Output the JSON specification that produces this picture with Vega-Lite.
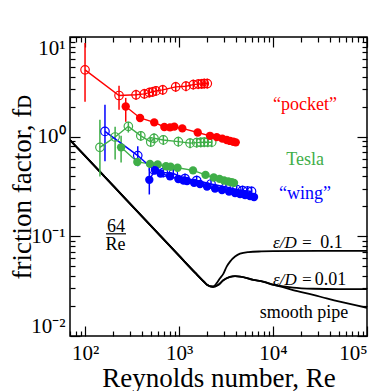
{
  "$schema": "https://vega.github.io/schema/vega-lite/v6.json",
  "autosize": {"type": "none"},
  "padding": {"left": 70, "top": 37, "right": 14, "bottom": 55},
  "width": 297,
  "height": 299,
  "background": "white",
  "config": {"view": {"stroke": "black", "strokeWidth": 1.5}},
  "datasets": {
    "pts": [
      {"grp":"pocket","s":"po","fill":"open","Re":100,"f":4.68,"lo":2.24,"hi":8.7},
      {"grp":"pocket","s":"po","fill":"open","Re":230,"f":2.59,"lo":1.86,"hi":3.24},
      {"grp":"pocket","s":"po","fill":"open","Re":349,"f":2.63,"lo":2.34,"hi":2.95},
      {"grp":"pocket","s":"po","fill":"open","Re":428,"f":2.69,"lo":2.40,"hi":3.02},
      {"grp":"pocket","s":"po","fill":"open","Re":483,"f":2.77,"lo":2.47,"hi":3.11},
      {"grp":"pocket","s":"po","fill":"open","Re":525,"f":2.82,"lo":2.51,"hi":3.16},
      {"grp":"pocket","s":"po","fill":"open","Re":569,"f":2.88,"lo":2.57,"hi":3.23},
      {"grp":"pocket","s":"po","fill":"open","Re":671,"f":2.95,"lo":2.63,"hi":3.31},
      {"grp":"pocket","s":"po","fill":"open","Re":922,"f":3.16,"lo":2.82,"hi":3.55},
      {"grp":"pocket","s":"po","fill":"open","Re":1186,"f":3.21,"lo":2.86,"hi":3.60},
      {"grp":"pocket","s":"po","fill":"open","Re":1419,"f":3.33,"lo":2.97,"hi":3.74},
      {"grp":"pocket","s":"po","fill":"open","Re":1603,"f":3.37,"lo":3.00,"hi":3.78},
      {"grp":"pocket","s":"po","fill":"open","Re":1742,"f":3.39,"lo":3.02,"hi":3.80},
      {"grp":"pocket","s":"po","fill":"open","Re":1858,"f":3.41,"lo":3.04,"hi":3.83},
      {"grp":"pocket","s":"po","fill":"open","Re":2000,"f":3.41,"lo":3.04,"hi":3.83},
      {"grp":"pocket","s":"pf","fill":"filled","Re":271,"f":2.01,"lo":1.41,"hi":2.45},
      {"grp":"pocket","s":"pf","fill":"filled","Re":385,"f":1.54},
      {"grp":"pocket","s":"pf","fill":"filled","Re":545,"f":1.39},
      {"grp":"pocket","s":"pf","fill":"filled","Re":698,"f":1.25},
      {"grp":"pocket","s":"pf","fill":"filled","Re":802,"f":1.24},
      {"grp":"pocket","s":"pf","fill":"filled","Re":891,"f":1.26},
      {"grp":"pocket","s":"pf","fill":"filled","Re":1084,"f":1.21},
      {"grp":"pocket","s":"pf","fill":"filled","Re":1581,"f":1.10},
      {"grp":"pocket","s":"pf","fill":"filled","Re":2137,"f":1.02},
      {"grp":"pocket","s":"pf","fill":"filled","Re":2518,"f":0.99},
      {"grp":"pocket","s":"pf","fill":"filled","Re":2891,"f":0.955},
      {"grp":"pocket","s":"pf","fill":"filled","Re":3220,"f":0.927},
      {"grp":"pocket","s":"pf","fill":"filled","Re":3491,"f":0.906},
      {"grp":"pocket","s":"pf","fill":"filled","Re":3785,"f":0.89},
      {"grp":"pocket","s":"pf","fill":"filled","Re":4013,"f":0.877},
      {"grp":"Tesla","s":"to","fill":"open","Re":144,"f":0.782,"lo":0.398,"hi":1.48},
      {"grp":"Tesla","s":"to","fill":"open","Re":209,"f":0.993,"lo":0.589,"hi":1.26},
      {"grp":"Tesla","s":"to","fill":"open","Re":289,"f":1.27,"lo":1.10,"hi":1.41},
      {"grp":"Tesla","s":"to","fill":"open","Re":392,"f":1.02,"lo":0.91,"hi":1.14},
      {"grp":"Tesla","s":"to","fill":"open","Re":500,"f":0.885,"lo":0.79,"hi":0.99},
      {"grp":"Tesla","s":"to","fill":"open","Re":542,"f":0.962,"lo":0.857,"hi":1.08},
      {"grp":"Tesla","s":"to","fill":"open","Re":681,"f":0.927,"lo":0.826,"hi":1.04},
      {"grp":"Tesla","s":"to","fill":"open","Re":984,"f":0.891,"lo":0.794,"hi":1.0},
      {"grp":"Tesla","s":"to","fill":"open","Re":1310,"f":0.861,"lo":0.767,"hi":0.966},
      {"grp":"Tesla","s":"to","fill":"open","Re":1541,"f":0.871,"lo":0.776,"hi":0.977},
      {"grp":"Tesla","s":"to","fill":"open","Re":1702,"f":0.877,"lo":0.782,"hi":0.984},
      {"grp":"Tesla","s":"to","fill":"open","Re":1858,"f":0.88,"lo":0.784,"hi":0.987},
      {"grp":"Tesla","s":"to","fill":"open","Re":2018,"f":0.88,"lo":0.784,"hi":0.987},
      {"grp":"Tesla","s":"to","fill":"open","Re":2228,"f":0.88,"lo":0.784,"hi":0.987},
      {"grp":"Tesla","s":"tf","fill":"filled","Re":242,"f":0.782,"lo":0.55,"hi":1.02},
      {"grp":"Tesla","s":"tf","fill":"filled","Re":360,"f":0.558},
      {"grp":"Tesla","s":"tf","fill":"filled","Re":491,"f":0.533},
      {"grp":"Tesla","s":"tf","fill":"filled","Re":593,"f":0.525},
      {"grp":"Tesla","s":"tf","fill":"filled","Re":727,"f":0.505},
      {"grp":"Tesla","s":"tf","fill":"filled","Re":813,"f":0.50},
      {"grp":"Tesla","s":"tf","fill":"filled","Re":964,"f":0.488},
      {"grp":"Tesla","s":"tf","fill":"filled","Re":1409,"f":0.459},
      {"grp":"Tesla","s":"tf","fill":"filled","Re":1914,"f":0.414},
      {"grp":"Tesla","s":"tf","fill":"filled","Re":2339,"f":0.389},
      {"grp":"Tesla","s":"tf","fill":"filled","Re":2697,"f":0.377},
      {"grp":"Tesla","s":"tf","fill":"filled","Re":3013,"f":0.363},
      {"grp":"Tesla","s":"tf","fill":"filled","Re":3345,"f":0.355},
      {"grp":"Tesla","s":"tf","fill":"filled","Re":3636,"f":0.349},
      {"grp":"Tesla","s":"tf","fill":"filled","Re":3846,"f":0.344},
      {"grp":"wing","s":"wo","fill":"open","Re":163,"f":1.13,"lo":0.566,"hi":2.09},
      {"grp":"wing","s":"wo","fill":"open","Re":364,"f":0.646,"lo":0.505,"hi":0.80},
      {"grp":"wing","s":"wo","fill":"open","Re":535,"f":0.468,"lo":0.417,"hi":0.525},
      {"grp":"wing","s":"wo","fill":"open","Re":681,"f":0.437,"lo":0.39,"hi":0.49},
      {"grp":"wing","s":"wo","fill":"open","Re":869,"f":0.427,"lo":0.38,"hi":0.479},
      {"grp":"wing","s":"wo","fill":"open","Re":1158,"f":0.38,"lo":0.339,"hi":0.426},
      {"grp":"wing","s":"wo","fill":"open","Re":1541,"f":0.363,"lo":0.324,"hi":0.407},
      {"grp":"wing","s":"wo","fill":"open","Re":2190,"f":0.335,"lo":0.299,"hi":0.376},
      {"grp":"wing","s":"wo","fill":"open","Re":3160,"f":0.313,"lo":0.279,"hi":0.351},
      {"grp":"wing","s":"wo","fill":"open","Re":4110,"f":0.295,"lo":0.263,"hi":0.331},
      {"grp":"wing","s":"wo","fill":"open","Re":4740,"f":0.288,"lo":0.257,"hi":0.323},
      {"grp":"wing","s":"wo","fill":"open","Re":5360,"f":0.285,"lo":0.254,"hi":0.32},
      {"grp":"wing","s":"wo","fill":"open","Re":5910,"f":0.282,"lo":0.251,"hi":0.316},
      {"grp":"wing","s":"wf","fill":"filled","Re":483,"f":0.369,"lo":0.263,"hi":0.49},
      {"grp":"wing","s":"wf","fill":"filled","Re":555,"f":0.462,"lo":0.415,"hi":0.548},
      {"grp":"wing","s":"wf","fill":"filled","Re":636,"f":0.427},
      {"grp":"wing","s":"wf","fill":"filled","Re":802,"f":0.401},
      {"grp":"wing","s":"wf","fill":"filled","Re":984,"f":0.376},
      {"grp":"wing","s":"wf","fill":"filled","Re":1117,"f":0.363},
      {"grp":"wing","s":"wf","fill":"filled","Re":1217,"f":0.359},
      {"grp":"wing","s":"wf","fill":"filled","Re":1445,"f":0.344},
      {"grp":"wing","s":"wf","fill":"filled","Re":1672,"f":0.335},
      {"grp":"wing","s":"wf","fill":"filled","Re":1985,"f":0.316},
      {"grp":"wing","s":"wf","fill":"filled","Re":2415,"f":0.302},
      {"grp":"wing","s":"wf","fill":"filled","Re":2866,"f":0.292},
      {"grp":"wing","s":"wf","fill":"filled","Re":3404,"f":0.282},
      {"grp":"wing","s":"wf","fill":"filled","Re":3945,"f":0.272},
      {"grp":"wing","s":"wf","fill":"filled","Re":4460,"f":0.266},
      {"grp":"wing","s":"wf","fill":"filled","Re":5040,"f":0.260},
      {"grp":"wing","s":"wf","fill":"filled","Re":5690,"f":0.254},
      {"grp":"wing","s":"wf","fill":"filled","Re":6280,"f":0.248}
    ],
    "curves": [
      {"c":"smooth","Re":69.2,"f":0.925},{"c":"smooth","Re":100,"f":0.64},{"c":"smooth","Re":200,"f":0.32},{"c":"smooth","Re":500,"f":0.128},{"c":"smooth","Re":1000,"f":0.064},{"c":"smooth","Re":1500,"f":0.0427},{"c":"smooth","Re":1800,"f":0.0358},{"c":"smooth","Re":2000,"f":0.0325},{"c":"smooth","Re":2300,"f":0.0312},
      {"c":"smooth","Re":2600,"f":0.0325},{"c":"smooth","Re":2958,"f":0.0362},{"c":"smooth","Re":3490,"f":0.0391},{"c":"smooth","Re":3946,"f":0.0398},{"c":"smooth","Re":4460,"f":0.0395},{"c":"smooth","Re":6170,"f":0.0366},{"c":"smooth","Re":7890,"f":0.0350},{"c":"smooth","Re":10070,"f":0.0326},{"c":"smooth","Re":11850,"f":0.0315},{"c":"smooth","Re":16300,"f":0.0289},{"c":"smooth","Re":26800,"f":0.0259},{"c":"smooth","Re":37200,"f":0.0238},{"c":"smooth","Re":100000,"f":0.0192},
      {"c":"e001","Re":69.2,"f":0.925},{"c":"e001","Re":100,"f":0.64},{"c":"e001","Re":200,"f":0.32},{"c":"e001","Re":500,"f":0.128},{"c":"e001","Re":1000,"f":0.064},{"c":"e001","Re":1500,"f":0.0427},{"c":"e001","Re":1800,"f":0.0358},{"c":"e001","Re":2000,"f":0.0325},{"c":"e001","Re":2300,"f":0.0312},
      {"c":"e001","Re":2600,"f":0.0325},{"c":"e001","Re":2958,"f":0.0362},{"c":"e001","Re":3490,"f":0.0391},{"c":"e001","Re":3946,"f":0.0398},{"c":"e001","Re":4460,"f":0.0395},{"c":"e001","Re":6170,"f":0.0366},{"c":"e001","Re":7890,"f":0.0351},{"c":"e001","Re":10070,"f":0.0328},{"c":"e001","Re":11850,"f":0.0318},{"c":"e001","Re":16300,"f":0.0306},{"c":"e001","Re":26800,"f":0.0298},{"c":"e001","Re":50000,"f":0.0295},{"c":"e001","Re":100000,"f":0.0296},
      {"c":"e01","Re":69.2,"f":0.925},{"c":"e01","Re":100,"f":0.64},{"c":"e01","Re":200,"f":0.32},{"c":"e01","Re":500,"f":0.128},{"c":"e01","Re":1000,"f":0.064},{"c":"e01","Re":1500,"f":0.0427},{"c":"e01","Re":1800,"f":0.0358},{"c":"e01","Re":2000,"f":0.0325},{"c":"e01","Re":2300,"f":0.0313},
      {"c":"e01","Re":2518,"f":0.0339},{"c":"e01","Re":2730,"f":0.038},{"c":"e01","Re":2958,"f":0.042},{"c":"e01","Re":3213,"f":0.0497},{"c":"e01","Re":3490,"f":0.0558},{"c":"e01","Re":3946,"f":0.0627},{"c":"e01","Re":4460,"f":0.067},{"c":"e01","Re":5500,"f":0.0695},{"c":"e01","Re":7500,"f":0.0706},{"c":"e01","Re":10000,"f":0.071},{"c":"e01","Re":30000,"f":0.0714},{"c":"e01","Re":100000,"f":0.0714}
    ],
    "clabels": [
      {"grp":"pocket","Re":21900,"f":1.87,"t":"“pocket”"},
      {"grp":"Tesla","Re":21900,"f":0.523,"t":"Tesla"},
      {"grp":"wing","Re":21900,"f":0.238,"t":"“wing”"}
    ],
    "blabels": [
      {"Re":214,"f":0.111,"t":"64","a":"center"},
      {"Re":211,"f":0.0731,"t":"Re","a":"center"},
      {"Re":42000,"f":0.0766,"t":"0.1","a":"left"},
      {"Re":41000,"f":0.0326,"t":"0.01","a":"left"},
      {"Re":21400,"f":0.0152,"t":"smooth pipe","a":"center"}
    ],
    "ilabels": [
      {"Re":10000,"f":0.0766,"t":"ε/D ="},
      {"Re":10000,"f":0.0326,"t":"ε/D ="}
    ],
    "frac": [
      {"Re":167,"Re2":273,"f":0.106}
    ]
  },
  "resolve": {"scale": {"x": "shared", "y": "shared"}, "axis": {"x": "independent", "y": "independent"}},
  "layer": [
    {
      "data": {"name": "curves"},
      "mark": {"type": "line", "color": "black", "strokeWidth": 1.8, "interpolate": "monotone", "clip": true},
      "encoding": {
        "x": {"field": "Re", "type": "quantitative",
              "scale": {"type": "log", "domain": [69.2, 100000], "nice": false},
              "axis": {"orient": "bottom", "values": [100, 1000, 10000, 100000], "ticks": false, "domain": false, "grid": false,
                       "labelExpr": "datum.value==100?'10²':datum.value==1000?'10³':datum.value==10000?'10⁴':datum.value==100000?'10⁵':''",
                       "labelFont": "Liberation Serif", "labelFontSize": 21, "labelColor": "black", "labelPadding": 6,
                       "title": "Reynolds number, Re", "titleFont": "Liberation Serif", "titleFontSize": 27, "titleFontWeight": "normal", "titleColor": "black", "titlePadding": 2}},
        "y": {"field": "f", "type": "quantitative",
              "scale": {"type": "log", "domain": [0.01, 10], "nice": false},
              "axis": {"orient": "left", "values": [0.01, 0.1, 1, 10], "ticks": false, "domain": false, "grid": false, "labelFlush": true,
                       "labelExpr": "datum.value==10?'10¹':datum.value==1?'10⁰':datum.value==0.1?'10⁻¹':datum.value==0.01?'10⁻²':''",
                       "labelFont": "Liberation Serif", "labelFontSize": 21, "labelColor": "black", "labelPadding": 5,
                       "title": "friction factor, fᴅ", "titleFont": "Liberation Serif", "titleFontSize": 27, "titleFontWeight": "normal", "titleColor": "black", "titlePadding": -6}},
        "detail": {"field": "c"}
      }
    },
    {
      "data": {"name": "pts"},
      "transform": [{"filter": "isValid(datum.lo)"}],
      "mark": {"type": "rule", "strokeWidth": 1.5},
      "encoding": {
        "x": {"field": "Re", "type": "quantitative", "scale": {"type": "log", "domain": [69.2, 100000], "nice": false},
              "axis": {"orient": "bottom", "values": [100, 1000, 10000, 100000], "labels": false, "domain": false, "grid": false, "tickSize": -10, "tickColor": "black", "tickWidth": 1.2, "title": null}},
        "y": {"field": "lo", "type": "quantitative", "scale": {"type": "log", "domain": [0.01, 10], "nice": false},
              "axis": {"orient": "left", "values": [0.01, 0.1, 1, 10], "labels": false, "domain": false, "grid": false, "tickSize": -10, "tickColor": "black", "tickWidth": 1.2, "title": null}},
        "y2": {"field": "hi"},
        "color": {"field": "grp", "type": "nominal", "scale": {"domain": ["pocket", "Tesla", "wing"], "range": ["#ff0000", "#3fae48", "#0000ff"]}, "legend": null}
      }
    },
    {
      "data": {"name": "pts"},
      "mark": {"type": "line", "strokeWidth": 1.4},
      "encoding": {
        "x": {"field": "Re", "type": "quantitative", "scale": {"type": "log", "domain": [69.2, 100000], "nice": false},
              "axis": {"orient": "bottom", "values": [70, 80, 90, 200, 300, 400, 500, 600, 700, 800, 900, 2000, 3000, 4000, 5000, 6000, 7000, 8000, 9000, 20000, 30000, 40000, 50000, 60000, 70000, 80000, 90000], "labels": false, "domain": false, "grid": false, "tickSize": -5, "tickColor": "black", "tickWidth": 1.2, "title": null}},
        "y": {"field": "f", "type": "quantitative", "scale": {"type": "log", "domain": [0.01, 10], "nice": false},
              "axis": {"orient": "left", "values": [0.02, 0.03, 0.04, 0.05, 0.06, 0.07, 0.08, 0.09, 0.2, 0.3, 0.4, 0.5, 0.6, 0.7, 0.8, 0.9, 2, 3, 4, 5, 6, 7, 8, 9], "labels": false, "domain": false, "grid": false, "tickSize": -5, "tickColor": "black", "tickWidth": 1.2, "title": null}},
        "color": {"field": "grp", "type": "nominal", "legend": null},
        "detail": {"field": "s"}
      }
    },
    {
      "data": {"name": "pts"},
      "transform": [{"filter": "datum.fill == 'open'"}],
      "mark": {"type": "point", "filled": false, "size": 72, "strokeWidth": 1.2, "opacity": 1},
      "encoding": {
        "x": {"field": "Re", "type": "quantitative", "scale": {"type": "log", "domain": [69.2, 100000], "nice": false},
              "axis": {"orient": "top", "values": [100, 1000, 10000, 100000], "labels": false, "domain": false, "grid": false, "tickSize": -10, "tickColor": "black", "tickWidth": 1.2, "title": null}},
        "y": {"field": "f", "type": "quantitative", "scale": {"type": "log", "domain": [0.01, 10], "nice": false},
              "axis": {"orient": "right", "values": [0.01, 0.1, 1, 10], "labels": false, "domain": false, "grid": false, "tickSize": -10, "tickColor": "black", "tickWidth": 1.2, "title": null}},
        "color": {"field": "grp", "type": "nominal", "legend": null}
      }
    },
    {
      "data": {"name": "pts"},
      "transform": [{"filter": "datum.fill == 'filled'"}],
      "mark": {"type": "point", "filled": true, "size": 70, "opacity": 1},
      "encoding": {
        "x": {"field": "Re", "type": "quantitative", "scale": {"type": "log", "domain": [69.2, 100000], "nice": false},
              "axis": {"orient": "top", "values": [70, 80, 90, 200, 300, 400, 500, 600, 700, 800, 900, 2000, 3000, 4000, 5000, 6000, 7000, 8000, 9000, 20000, 30000, 40000, 50000, 60000, 70000, 80000, 90000], "labels": false, "domain": false, "grid": false, "tickSize": -5, "tickColor": "black", "tickWidth": 1.2, "title": null}},
        "y": {"field": "f", "type": "quantitative", "scale": {"type": "log", "domain": [0.01, 10], "nice": false},
              "axis": {"orient": "right", "values": [0.02, 0.03, 0.04, 0.05, 0.06, 0.07, 0.08, 0.09, 0.2, 0.3, 0.4, 0.5, 0.6, 0.7, 0.8, 0.9, 2, 3, 4, 5, 6, 7, 8, 9], "labels": false, "domain": false, "grid": false, "tickSize": -5, "tickColor": "black", "tickWidth": 1.2, "title": null}},
        "color": {"field": "grp", "type": "nominal", "legend": null}
      }
    },
    {
      "data": {"name": "clabels"},
      "mark": {"type": "text", "font": "Liberation Serif", "fontSize": 18, "align": "center", "baseline": "alphabetic"},
      "encoding": {
        "x": {"field": "Re", "type": "quantitative", "scale": {"type": "log", "domain": [69.2, 100000], "nice": false}, "axis": null},
        "y": {"field": "f", "type": "quantitative", "scale": {"type": "log", "domain": [0.01, 10], "nice": false}, "axis": null},
        "text": {"field": "t"},
        "color": {"field": "grp", "type": "nominal", "legend": null}
      }
    },
    {
      "data": {"name": "blabels"},
      "mark": {"type": "text", "font": "Liberation Serif", "fontSize": 18, "baseline": "alphabetic", "color": "black"},
      "encoding": {
        "x": {"field": "Re", "type": "quantitative", "scale": {"type": "log", "domain": [69.2, 100000], "nice": false}, "axis": null},
        "y": {"field": "f", "type": "quantitative", "scale": {"type": "log", "domain": [0.01, 10], "nice": false}, "axis": null},
        "text": {"field": "t"},
        "align": {"field": "a", "type": "nominal", "scale": null}
      }
    },
    {
      "data": {"name": "ilabels"},
      "mark": {"type": "text", "font": "Liberation Serif", "fontSize": 17, "fontStyle": "italic", "align": "left", "baseline": "alphabetic", "color": "black"},
      "encoding": {
        "x": {"field": "Re", "type": "quantitative", "scale": {"type": "log", "domain": [69.2, 100000], "nice": false}, "axis": null},
        "y": {"field": "f", "type": "quantitative", "scale": {"type": "log", "domain": [0.01, 10], "nice": false}, "axis": null},
        "text": {"field": "t"}
      }
    },
    {
      "data": {"name": "frac"},
      "mark": {"type": "rule", "color": "black", "strokeWidth": 1.2},
      "encoding": {
        "x": {"field": "Re", "type": "quantitative", "scale": {"type": "log", "domain": [69.2, 100000], "nice": false}, "axis": null},
        "x2": {"field": "Re2"},
        "y": {"field": "f", "type": "quantitative", "scale": {"type": "log", "domain": [0.01, 10], "nice": false}, "axis": null}
      }
    }
  ]
}
